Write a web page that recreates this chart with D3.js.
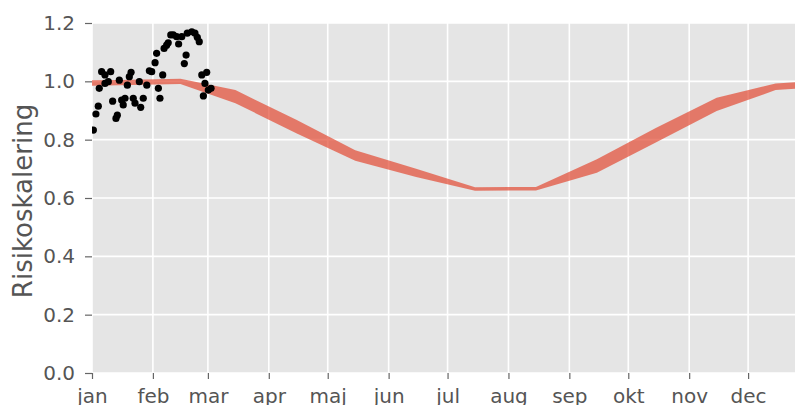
<!DOCTYPE html>
<html>
<head>
<meta charset="utf-8">
<script src="https://cdn.jsdelivr.net/npm/d3@7"></script>
<style>
  body { margin: 0; background: #fff; }
  svg text { font-family: "DejaVu Sans", sans-serif; }
</style>
</head>
<body>
<div id="chart"></div>
<script>
// month tick labels and their day-of-year positions
var monthLabels = ["jan", "feb", "mar", "apr", "maj", "jun", "jul", "aug", "sep", "okt", "nov", "dec"];
var monthStarts = [0, 31, 59, 90, 120, 151, 181, 212, 243, 273, 304, 334];
var yTicks = [0.0, 0.2, 0.4, 0.6, 0.8, 1.0, 1.2];

// band (min / max risk scaling) at mid-month points
var bandDays = [0, 14, 45, 73, 104, 134, 165, 195, 226, 257, 287, 318, 348, 365];
var bandLow  = [0.985, 0.987, 0.991, 0.925, 0.822, 0.728, 0.672, 0.625, 0.626, 0.687, 0.79, 0.898, 0.970, 0.978];
var bandHigh = [1.004, 1.005, 1.009, 0.970, 0.868, 0.764, 0.700, 0.637, 0.638, 0.733, 0.84, 0.944, 0.993, 1.000];

// observed values (days since jan 1)
var obsDays = [0.7, 2, 3.2, 3.7, 4.9, 6.6, 6.6, 8.3, 9.5, 10.5, 12.2, 12.9, 13.9, 15.1, 15.9, 16.8, 18, 19, 19.9,
  21, 21.9, 24.1, 24.8, 26.1, 27.9, 29.2, 30.4, 32.1, 32.9, 33.8, 34.6, 36, 36.7, 38, 38.8, 40.1, 41.4, 43.1,
  44.1, 45.7, 47, 47.9, 48.5, 50.8, 52.4, 53.6, 54.6, 55.9, 56.7, 57.5, 58.4, 59.2, 60.6];
var obsValues = [0.833, 0.888, 0.915, 0.976, 1.033, 1.022, 0.993, 0.999, 1.033, 0.932, 0.873, 0.884, 1.004, 0.936,
  0.919, 0.942, 0.987, 1.016, 1.031, 0.942, 0.925, 0.999, 0.911, 0.942, 0.987, 1.036, 1.033, 1.064, 1.096, 0.976,
  0.942, 1.022, 1.113, 1.124, 1.132, 1.159, 1.159, 1.153, 1.128, 1.153, 1.061, 1.090, 1.165, 1.170, 1.165, 1.151,
  1.136, 1.022, 0.950, 0.993, 1.031, 0.970, 0.976];

var W = 795, H = 405;
var margin = { left: 92, top: 23 };
var plotW = 717, plotH = 350;

var svg = d3.select("#chart").append("svg")
  .attr("width", W)
  .attr("height", H);

var x = d3.scaleLinear().domain([0, 365]).range([0, plotW]);
var y = d3.scaleLinear().domain([0, 1.2]).range([plotH, 0]);

var g = svg.append("g")
  .attr("transform", "translate(" + margin.left + "," + margin.top + ")");

g.append("defs").append("clipPath").attr("id", "clip")
  .append("rect").attr("width", plotW).attr("height", plotH);

// background
g.append("rect")
  .attr("width", plotW)
  .attr("height", plotH)
  .attr("fill", "#e5e5e5");

// grid lines
g.append("g").selectAll("line").data(monthStarts).join("line")
  .attr("x1", d => x(d)).attr("x2", d => x(d))
  .attr("y1", 0).attr("y2", plotH)
  .attr("stroke", "#fff").attr("stroke-width", 1.6);

g.append("g").selectAll("line").data(yTicks).join("line")
  .attr("x1", 0).attr("x2", plotW)
  .attr("y1", d => y(d)).attr("y2", d => y(d))
  .attr("stroke", "#fff").attr("stroke-width", 1.6);

var plot = g.append("g").attr("clip-path", "url(#clip)");

// band
var band = bandDays.map((d, i) => ({ day: d, lo: bandLow[i], hi: bandHigh[i] }));
var areaGen = d3.area()
  .x(d => x(d.day))
  .y0(d => y(d.lo))
  .y1(d => y(d.hi));

plot.append("path")
  .datum(band)
  .attr("d", areaGen)
  .attr("fill", "#e24a33")
  .attr("fill-opacity", 0.7);

// observations
plot.append("g").selectAll("circle").data(obsDays).join("circle")
  .attr("cx", d => x(d))
  .attr("cy", (d, i) => y(obsValues[i]))
  .attr("r", 3.6)
  .attr("fill", "#000");

// axes
var xAxis = d3.axisBottom(x)
  .tickValues(monthStarts)
  .tickFormat((d, i) => monthLabels[i])
  .tickSize(6)
  .tickPadding(9.5);

var yAxis = d3.axisLeft(y)
  .tickValues(yTicks)
  .tickFormat(d3.format(".1f"))
  .tickSize(7)
  .tickPadding(10);

var gx = g.append("g")
  .attr("transform", "translate(0," + plotH + ")")
  .call(xAxis);
var gy = g.append("g").call(yAxis);

[gx, gy].forEach(a => {
  a.select(".domain").remove();
  a.selectAll(".tick line").attr("stroke", "#666").attr("stroke-width", 1.2);
  a.selectAll(".tick text")
    .attr("fill", "#555")
    .style("font-size", "20px");
});

// y label
svg.append("text")
  .attr("transform", "translate(32," + (margin.top + plotH / 2 + 3) + ") rotate(-90)")
  .attr("text-anchor", "middle")
  .attr("fill", "#555")
  .style("font-size", "26px")
  .text("Risikoskalering");
</script>
</body>
</html>
